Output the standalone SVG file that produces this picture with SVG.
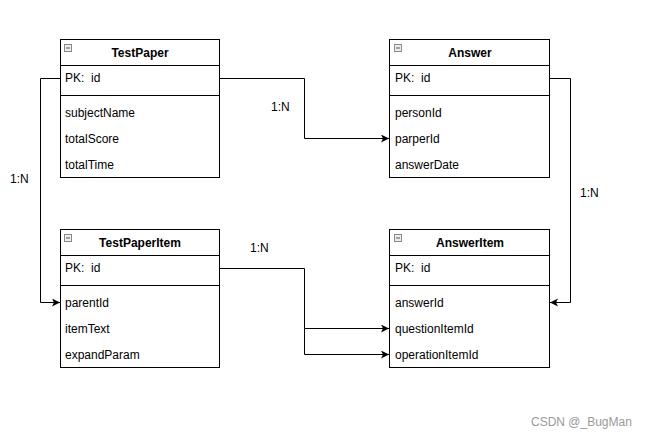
<svg xmlns="http://www.w3.org/2000/svg" width="648" height="440" viewBox="0 0 648 440">
<style>
.box{fill:#fff;stroke:#000;stroke-width:1}
.ln{stroke:#000;stroke-width:1;fill:none}
.t{font-family:"Liberation Sans",Arial,sans-serif;font-size:12px;fill:#000}
.h{font-family:"Liberation Sans",Arial,sans-serif;font-size:12px;font-weight:bold;fill:#000;text-anchor:middle}
.ic{fill:#eee;stroke:#888;stroke-width:1}
.wm{font-family:"Liberation Sans",Arial,sans-serif;font-size:12px;fill:#999}
</style>
<defs>
<marker id="ar" markerWidth="10" markerHeight="10" refX="8" refY="4" orient="auto" markerUnits="userSpaceOnUse">
<path d="M0,0 L8,4 L0,8 L2,4 Z" fill="#000"/>
</marker>
<g id="icon"><rect class="ic" x="0.5" y="0.5" width="7" height="7"/><line x1="2" y1="4" x2="6" y2="4" stroke="#555"/></g>
</defs>
<rect width="648" height="440" fill="#fff"/>
<g id="TestPaper">
<rect class="box" x="60.5" y="39.5" width="159" height="138"/>
<line class="ln" x1="60.5" y1="65.5" x2="219.5" y2="65.5"/>
<line class="ln" x1="60.5" y1="95.5" x2="219.5" y2="95.5"/>
<use href="#icon" x="64" y="44"/>
<text class="h" x="140" y="57">TestPaper</text>
<text class="t" x="65" y="82">PK:&#160; id</text>
<text class="t" x="65" y="117">subjectName</text>
<text class="t" x="65" y="143">totalScore</text>
<text class="t" x="65" y="169">totalTime</text>
</g>
<g id="Answer">
<rect class="box" x="389.5" y="39.5" width="160" height="138"/>
<line class="ln" x1="389.5" y1="65.5" x2="549.5" y2="65.5"/>
<line class="ln" x1="389.5" y1="95.5" x2="549.5" y2="95.5"/>
<use href="#icon" x="394" y="44"/>
<text class="h" x="470" y="57">Answer</text>
<text class="t" x="395" y="82">PK:&#160; id</text>
<text class="t" x="395" y="117">personId</text>
<text class="t" x="395" y="143">parperId</text>
<text class="t" x="395" y="169">answerDate</text>
</g>
<g id="TestPaperItem">
<rect class="box" x="60.5" y="229.5" width="159" height="138"/>
<line class="ln" x1="60.5" y1="255.5" x2="219.5" y2="255.5"/>
<line class="ln" x1="60.5" y1="285.5" x2="219.5" y2="285.5"/>
<use href="#icon" x="64" y="234"/>
<text class="h" x="140" y="247">TestPaperItem</text>
<text class="t" x="65" y="272">PK:&#160; id</text>
<text class="t" x="65" y="307">parentId</text>
<text class="t" x="65" y="333">itemText</text>
<text class="t" x="65" y="359">expandParam</text>
</g>
<g id="AnswerItem">
<rect class="box" x="389.5" y="229.5" width="160" height="138"/>
<line class="ln" x1="389.5" y1="255.5" x2="549.5" y2="255.5"/>
<line class="ln" x1="389.5" y1="285.5" x2="549.5" y2="285.5"/>
<use href="#icon" x="394" y="234"/>
<text class="h" x="470" y="247">AnswerItem</text>
<text class="t" x="395" y="272">PK:&#160; id</text>
<text class="t" x="395" y="307">answerId</text>
<text class="t" x="395" y="333">questionItemId</text>
<text class="t" x="395" y="359">operationItemId</text>
</g>
<g id="connectors">
<path class="ln" d="M219.5,78.5 H304.5 V138.5 H389" marker-end="url(#ar)"/>
<path class="ln" d="M60.5,78.5 H40.5 V302.5 H60" marker-end="url(#ar)"/>
<path class="ln" d="M549.5,78.5 H570.5 V302.5 H550" marker-end="url(#ar)"/>
<path class="ln" d="M219.5,268.5 H304.5 V328.5 H389" marker-end="url(#ar)"/>
<path class="ln" d="M304.5,328.5 V354.5 H389" marker-end="url(#ar)"/>
<text class="t" x="271" y="111">1:N</text>
<text class="t" x="10" y="183">1:N</text>
<text class="t" x="580" y="197">1:N</text>
<text class="t" x="250" y="252">1:N</text>
</g>
<text class="wm" x="531" y="426">CSDN @_BugMan</text>
</svg>
